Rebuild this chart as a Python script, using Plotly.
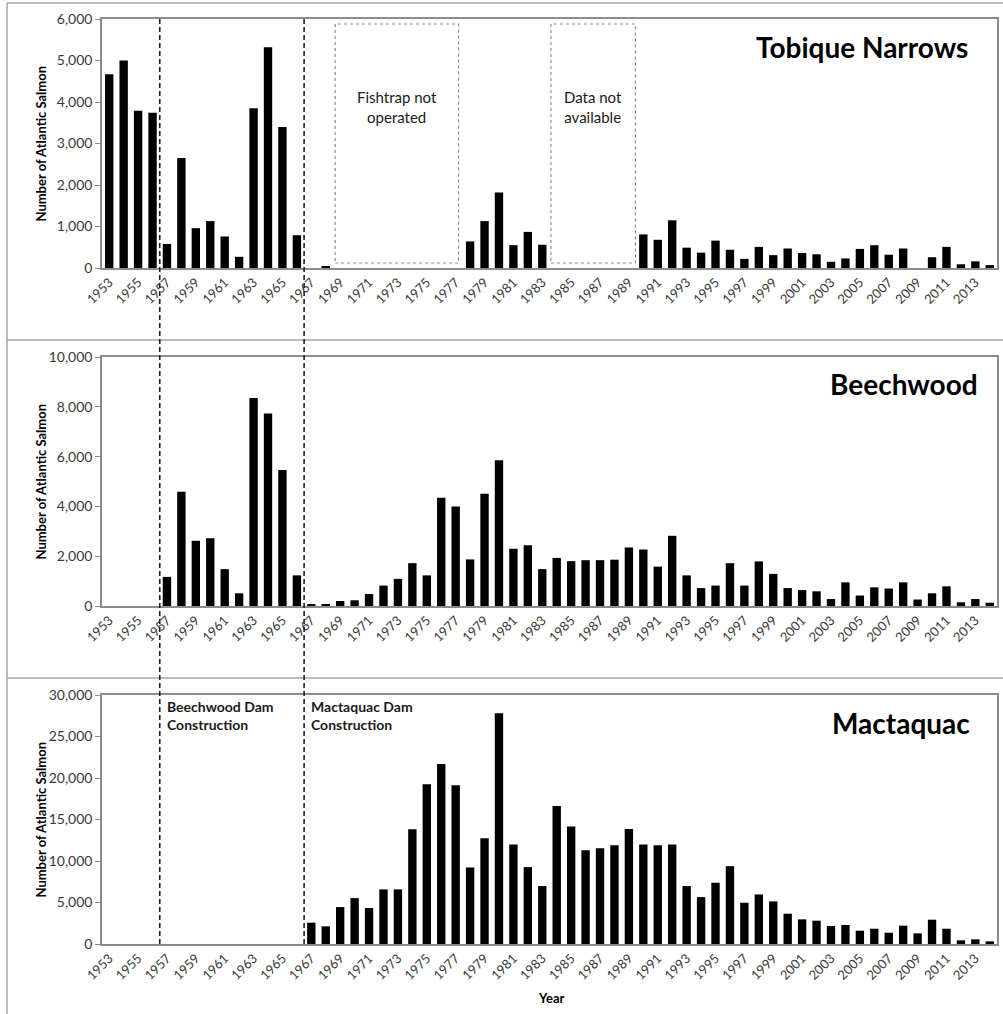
import plotly.graph_objects as go

years = list(range(1953, 2015))
tick_years = list(range(1953, 2014, 2))

tobique = [4670, 5000, 3790, 3740, 580, 2650, 960, 1130, 760, 270, 3850, 5320, 3400, 790,
           None, 40,
           None, None, None, None, None, None, None, None, None,
           640, 1130, 1820, 550, 870, 560,
           None, None, None, None, None, None,
           810, 680, 1150, 490, 370, 660, 440, 220, 510, 310, 470, 360, 330, 150, 230,
           460, 550, 320, 470, None, 260, 510, 90, 160, 70]

beechwood = [None, None, None, None,
             1170, 4590, 2620, 2720, 1480, 510, 8350, 7730, 5460, 1230,
             50, 80, 200, 230, 480, 820, 1090, 1720, 1230, 4350, 4000, 1870, 4510,
             5850, 2300, 2440, 1480, 1930, 1800, 1840, 1840, 1860, 2350, 2270, 1580, 2820,
             1230, 720, 820, 1720, 820, 1790, 1290, 720, 640, 590, 280, 950, 420, 750, 700,
             950, 260, 510, 790, 150, 280, 130]

mactaquac = [None] * 14 + [
    2570, 2130, 4450, 5530, 4330, 6580, 6580, 13830, 19250, 21690, 19130, 9220, 12750,
    27790, 11990, 9260, 6980, 16640, 14150, 11310, 11550, 11910, 13870, 11990, 11910, 11990,
    6980, 5650, 7380, 9380, 4970, 5970, 5130, 3650, 2970, 2810, 2170, 2290, 1600, 1840,
    1360, 2210, 1280, 2930, 1840, 440, 560, 320]

panel_names = ["Tobique Narrows", "Beechwood", "Mactaquac"]
y_max = [6000, 10000, 30000]
y_step = [1000, 2000, 5000]
dam_years = [1956.5, 1966.5]
dam_labels = ["Beechwood Dam<br>Construction", "Mactaquac Dam<br>Construction"]
gap_boxes = [(1968.65, 1977.2, "Fishtrap not<br>operated"),
             (1983.6, 1989.45, "Data not<br>available")]

W, H = 1003, 1014
FONT = "Lato"
def xp(px):
    return px / W
def yp(py):
    return 1 - py / H

# plot areas in pixels (top, bottom)
panels_px = [(19, 268), (357, 606), (695, 944)]
x_left, x_right = 102, 997

fig = go.Figure()
series = [tobique, beechwood, mactaquac]
for i, vals in enumerate(series):
    ax = "" if i == 0 else str(i + 1)
    fig.add_trace(go.Bar(x=years, y=vals, width=0.58, marker=dict(color="black", line=dict(width=0)),
                         xaxis="x" + ax, yaxis="y" + ax, showlegend=False))
    top, bot = panels_px[i]
    fig.update_layout(**{
        "xaxis" + ax: dict(domain=[xp(x_left), xp(x_right)], range=[1952.5, 2014.5],
                           anchor="y" + ax, tickvals=tick_years, ticktext=[str(t) for t in tick_years],
                           tickangle=-45, showline=True, mirror=True, linecolor="#8c8c8c", linewidth=1.5,
                           showgrid=False, zeroline=False, ticks="", automargin=False,
                           tickfont=dict(family=FONT, size=13, color="#3a3a3a")),
        "yaxis" + ax: dict(domain=[yp(bot), yp(top)], range=[0, y_max[i]], dtick=y_step[i],
                           anchor="x" + ax, tickformat=",", showline=True, mirror=True,
                           linecolor="#8c8c8c", linewidth=1.5, showgrid=False, zeroline=False,
                           ticks="outside", ticklen=5, tickcolor="#8c8c8c", automargin=False,
                           tickfont=dict(family=FONT, size=14, color="#3a3a3a")),
    })

shapes = []
annotations = []
# outer panel frames
line_style = dict(color="#a6a6a6", width=1.5)
shapes.append(dict(type="line", xref="paper", yref="paper", x0=xp(7), x1=1, y0=yp(3), y1=yp(3), line=line_style))
shapes.append(dict(type="line", xref="paper", yref="paper", x0=xp(7), x1=xp(7), y0=yp(3), y1=0, line=line_style))
for sy in [340, 678]:
    shapes.append(dict(type="line", xref="paper", yref="paper", x0=xp(7), x1=1, y0=yp(sy), y1=yp(sy), line=line_style))

# dam construction dashed lines spanning all panels
for dy in dam_years:
    shapes.append(dict(type="line", xref="x", yref="paper", x0=dy, x1=dy, y0=yp(944), y1=yp(19),
                       line=dict(color="#202020", width=1.6, dash="5px,3px")))

# gap boxes in top panel
for x0, x1, label in gap_boxes:
    shapes.append(dict(type="rect", xref="x", yref="y", x0=x0, x1=x1, y0=120, y1=5880,
                       line=dict(color="#8c8c8c", width=1.2, dash="dot"), fillcolor="rgba(0,0,0,0)"))
    annotations.append(dict(xref="x", yref="y", x=(x0 + x1) / 2, y=3870, text=label, showarrow=False,
                            font=dict(family=FONT, size=15, color="#1a1a1a"), align="center"))

# panel titles
title_pos = [(970, 47), (980, 384), (972, 723)]
for name, (tx, ty) in zip(panel_names, title_pos):
    annotations.append(dict(xref="paper", yref="paper", x=xp(tx), y=yp(ty), text="<b>" + name + "</b>",
                            showarrow=False, xanchor="right", yanchor="middle",
                            font=dict(family=FONT, size=28, color="black")))

# y axis titles
for top, bot in panels_px:
    annotations.append(dict(xref="paper", yref="paper", x=xp(40), y=yp((top + bot) / 2),
                            text="<b>Number of Atlantic Salmon</b>", textangle=-90, showarrow=False,
                            xanchor="center", yanchor="middle",
                            font=dict(family=FONT, size=13, color="black")))

# x axis title
annotations.append(dict(xref="paper", yref="paper", x=xp(551), y=yp(998), text="<b>Year</b>",
                        showarrow=False, xanchor="center", yanchor="middle",
                        font=dict(family=FONT, size=13, color="black")))

# dam labels in bottom panel
for dy, lab in zip(dam_years, dam_labels):
    annotations.append(dict(xref="x3", yref="paper", x=dy, xshift=5, y=yp(696), text="<b>" + lab + "</b>",
                            showarrow=False, xanchor="left", yanchor="top", align="left",
                            font=dict(family=FONT, size=14, color="#1a1a1a")))

fig.update_layout(template="none", width=W, height=H, margin=dict(l=0, r=0, t=0, b=0, pad=0),
                  paper_bgcolor="white", plot_bgcolor="white", bargap=0.42,
                  shapes=shapes, annotations=annotations,
                  font=dict(family=FONT))
fig.write_html("out.html")
